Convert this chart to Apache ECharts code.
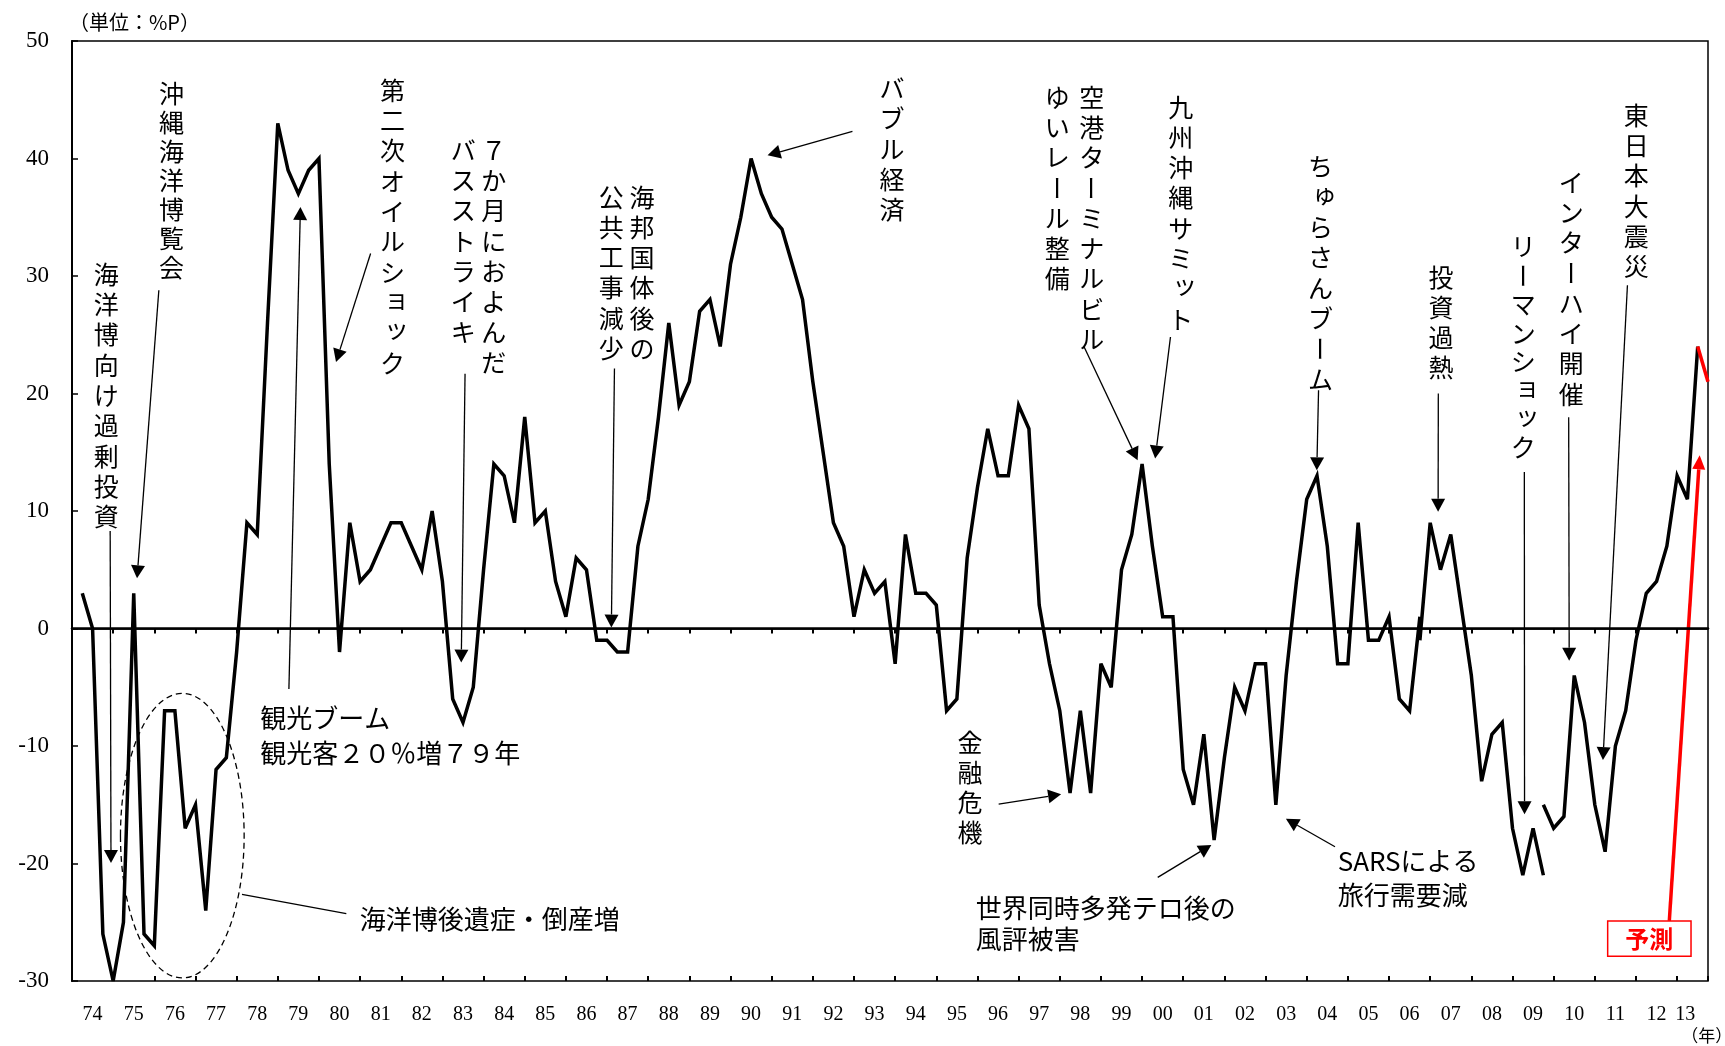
<!DOCTYPE html>
<html>
<head>
<meta charset="utf-8">
<title>沖縄 観光関連指標の推移</title>
<script src="https://cdn.jsdelivr.net/npm/echarts@6/dist/echarts.min.js"></script>
<style>
  html, body { margin: 0; padding: 0; background: #fff; }
  #chart { width: 1725px; height: 1046px; }
</style>
</head>
<body>
<div id="chart"></div>
<script>
// 横軸の年ラベル（四半期データ、1年=4区分）
const years = ['74', '75', '76', '77', '78', '79', '80', '81', '82', '83', '84', '85', '86', '87',
  '88', '89', '90', '91', '92', '93', '94', '95', '96', '97', '98', '99', '00', '01', '02', '03',
  '04', '05', '06', '07', '08', '09', '10', '11', '12', '13']

// 縦軸（%P）
const yMin = -30
const yMax = 50
const yStep = 10

// 系列1：74年〜06年（2番目の区分から）
const start1974 = 1
const series1974 = [3, 0, -26, -30, -25, 3, -26, -27, -7, -7,
  -17, -15, -24, -12, -11, -2, 9, 8, 26, 43,
  39, 37, 39, 40, 14, -2, 9, 4, 5, 7,
  9, 9, 7, 5, 10, 4, -6, -8, -5, 5,
  14, 13, 9, 18, 9, 10, 4, 1, 6, 5,
  -1, -1, -2, -2, 7, 11, 18, 26, 19, 21,
  27, 28, 24, 31, 35, 40, 37, 35, 34, 31,
  28, 21, 15, 9, 7, 1, 5, 3, 4, -3,
  8, 3, 3, 2, -7, -6, 6, 12, 17, 13,
  13, 19, 17, 2, -3, -7, -14, -7, -14, -3,
  -5, 5, 8, 14, 7, 1, 1, -12, -15, -9,
  -18, -11, -5, -7, -3, -3, -15, -4, 4, 11,
  13, 7, -3, -3, 9, -1, -1, 1, -6, -7, 1]

// 系列2：06年〜09年
const start2006 = 131
const series2006 = [-1, 9, 5, 8, 2, -4, -13, -9, -8, -17, -21, -17, -21]

// 系列3：09年〜13年
const start2009 = 143
const series2009 = [-15, -17, -16, -4, -8, -15, -19, -10, -7, -1, 3, 4, 7, 13, 11, 24]

// 予測
const startForecast = 158
const forecast = [24, 21]

const quarters = years.flatMap(y => ['Q1', 'Q2', 'Q3', 'Q4'].map(q => y + q))

function placed(start, values) {
  const out = quarters.map(() => null)
  values.forEach((v, i) => { out[start + i] = v })
  return out
}

const JP = 'Noto Sans CJK JP'
const SERIF = 'Liberation Serif'

// 注記（位置は [区分, %P] の座標）
const columnNotes = [
  { text: '海洋博向け過剰投資', at: [3.34, 30.14] },
  { text: '沖縄海洋博覧会', at: [9.66, 45.52], pitch: 29 },
  { text: '第二次オイルショック', at: [31.14, 45.8] },
  { text: '７か月におよんだ', at: [41.0, 40.7] },
  { text: 'バスストライキ', at: [38.02, 40.7] },
  { text: '海邦国体後の', at: [55.39, 36.72] },
  { text: '公共工事減少', at: [52.42, 36.72] },
  { text: 'バブル経済', at: [79.69, 45.95] },
  { text: '空港ターミナルビル', at: [99.11, 45.23] },
  { text: 'ゆいレール整備', at: [95.75, 45.23] },
  { text: '金融危機', at: [87.28, -9.66] },
  { text: '九州沖縄サミット', at: [107.76, 44.38] },
  { text: 'ちゅらさんブーム', at: [121.34, 39.28] },
  { text: '投資過熱', at: [133.05, 29.91] },
  { text: 'リーマンショック', at: [141.05, 32.47], pitch: 28.7 },
  { text: 'インターハイ開催', at: [145.7, 38.0] },
  { text: '東日本大震災', at: [152.03, 43.68] }
]

const lineNotes = [
  { text: '観光ブーム', at: [18.29, -7.67] },
  { text: '観光客２０％増７９年', at: [18.29, -10.59] },
  { text: '海洋博後遺症・倒産増', at: [27.97, -24.71] },
  { text: '世界同時多発テロ後の', at: [87.84, -23.8] },
  { text: '風評被害', at: [87.84, -26.41] },
  { text: 'SARSによる', at: [123.01, -19.8] },
  { text: '旅行需要減', at: [123.01, -22.72] }
]

const arrows = [
  { from: [3.71, 8.3], to: [3.79, -19.96] },
  { from: [8.44, 28.79], to: [6.32, 4.27] },
  { from: [29.02, 31.91], to: [25.66, 22.68] },
  { from: [38.2, 21.69], to: [37.83, -2.9] },
  { from: [21.08, -5.15], to: [22.2, 35.87] },
  { from: [52.72, 22.12], to: [52.42, 0.08] },
  { from: [75.85, 42.31], to: [67.6, 40.27] },
  { from: [98.37, 23.96], to: [103.57, 14.31] },
  { from: [90.06, -14.94], to: [96.13, -14.11] },
  { from: [105.52, -21.18], to: [110.73, -18.42] },
  { from: [122.75, -18.57], to: [117.98, -16.2] },
  { from: [106.76, 24.81], to: [105.27, 14.46] },
  { from: [121.15, 20.27], to: [120.98, 13.46] },
  { from: [132.79, 19.99], to: [132.77, 9.93] },
  { from: [141.15, 13.32], to: [141.17, -15.81] },
  { from: [145.46, 17.97], to: [145.51, -2.75] },
  { from: [151.17, 29.21], to: [148.79, -11.2] }
]

const chart = echarts.init(document.getElementById('chart'))

const blackLine = { color: '#000', width: 3.5, join: 'miter', miterLimit: 4 }

const option = {
  animation: false,
  grid: { left: 72, top: 41, right: 17, bottom: 65, show: true, borderColor: '#000', borderWidth: 1.5 },
  xAxis: [
    {
      type: 'category',
      data: quarters,
      boundaryGap: false,
      axisLine: { lineStyle: { color: '#000', width: 2.5 } },
      axisTick: { interval: i => i % 4 === 0, length: 5, lineStyle: { color: '#000', width: 2 } },
      axisLabel: {
        interval: i => i % 4 === 2,
        formatter: v => (v.slice(0, 2) === '13' ? '{last|13}' : v.slice(0, 2)),
        color: '#000',
        fontFamily: SERIF,
        fontSize: 20,
        margin: 24,
        rich: { last: { padding: [0, 25, 0, 0], color: '#000', fontFamily: SERIF, fontSize: 20 } }
      },
      splitLine: { show: false }
    },
    {
      type: 'value',
      min: 0,
      max: quarters.length - 1,
      interval: 4,
      position: 'bottom',
      axisLine: { show: false },
      axisLabel: { show: false },
      splitLine: { show: false },
      axisTick: { show: true, inside: true, length: 5, lineStyle: { color: '#000', width: 2 } }
    }
  ],
  yAxis: {
    type: 'value',
    min: yMin,
    max: yMax,
    interval: yStep,
    axisLine: { show: true, lineStyle: { color: '#000', width: 2 } },
    axisTick: { show: true, inside: true, length: 6, lineStyle: { color: '#000', width: 1.5 } },
    axisLabel: { color: '#000', fontFamily: SERIF, fontSize: 23, margin: 23 },
    splitLine: { show: false }
  },
  series: [
    {
      name: '74-06',
      type: 'line',
      data: placed(start1974, series1974),
      symbol: 'none',
      lineStyle: blackLine,
      markLine: {
        silent: true,
        symbol: 'none',
        label: { show: false },
        lineStyle: { color: '#000', width: 1.5, type: 'solid' },
        data: [{ yAxis: 0 }]
      }
    },
    { name: '06-09', type: 'line', data: placed(start2006, series2006), symbol: 'none', lineStyle: blackLine },
    { name: '09-13', type: 'line', data: placed(start2009, series2009), symbol: 'none', lineStyle: blackLine },
    {
      name: '予測',
      type: 'line',
      data: placed(startForecast, forecast),
      symbol: 'none',
      lineStyle: { color: '#ff0000', width: 3.5 }
    }
  ]
}

chart.setOption(option)

const px = (x, y) => [chart.convertToPixel({ xAxisIndex: 1 }, x), chart.convertToPixel({ yAxisIndex: 0 }, y)]

function textEl(text, x, y, opts) {
  return {
    type: 'text',
    x: x,
    y: y,
    rotation: opts.rotation || 0,
    silent: true,
    style: {
      text: text,
      x: 0,
      y: 0,
      align: opts.align || 'center',
      verticalAlign: 'middle',
      fontFamily: JP,
      fontSize: opts.size || 25,
      fontWeight: opts.weight || 'normal',
      fill: opts.color || '#000'
    }
  }
}

const SMALL = 'ッョュゅャっょゃァィゥェォ'

function column(note) {
  const [cx, cy] = px(note.at[0], note.at[1])
  const pitch = note.pitch || 30.3
  return Array.from(note.text).map((ch, k) => {
    const small = SMALL.includes(ch)
    return textEl(ch, cx + (small ? 4 : 0), cy + k * pitch - (small ? 4 : 0), {
      rotation: ch === 'ー' ? Math.PI / 2 : 0
    })
  })
}

function arrow(a, color, width, head) {
  const [x1, y1] = px(a.from[0], a.from[1])
  const [x2, y2] = px(a.to[0], a.to[1])
  const len = Math.hypot(x2 - x1, y2 - y1)
  const ux = (x2 - x1) / len
  const uy = (y2 - y1) / len
  const bx = x2 - ux * head.len
  const by = y2 - uy * head.len
  return [
    { type: 'line', silent: true, shape: { x1: x1, y1: y1, x2: bx, y2: by }, style: { stroke: color, lineWidth: width } },
    {
      type: 'polygon',
      silent: true,
      shape: { points: [[x2, y2], [bx - uy * head.half, by + ux * head.half], [bx + uy * head.half, by - ux * head.half]] },
      style: { fill: color }
    }
  ]
}

const elements = []
columnNotes.forEach(n => elements.push(...column(n)))
lineNotes.forEach(n => {
  const [x, y] = px(n.at[0], n.at[1])
  elements.push(textEl(n.text, x, y, { align: 'left', size: 26 }))
})
arrows.forEach(a => elements.push(...arrow(a, '#000', 1.3, { len: 13, half: 7 })))

// 海洋博後の落ち込みを囲む破線の楕円
const [ecx, ecy] = px(10.72, -17.63)
const [erx] = px(16.73, -17.63)
const [, ery] = px(10.72, -5.52)
elements.push({
  type: 'ellipse',
  silent: true,
  shape: { cx: ecx, cy: ecy, rx: erx - ecx, ry: ecy - ery },
  style: { fill: 'none', stroke: '#000', lineWidth: 1.3, lineDash: [6, 4] }
})
const [l1x, l1y] = px(16.52, -22.62)
const [l2x, l2y] = px(26.66, -24.26)
elements.push({ type: 'line', silent: true, shape: { x1: l1x, y1: l1y, x2: l2x, y2: l2y }, style: { stroke: '#000', lineWidth: 1.3 } })

// 予測ボックスと矢印
const [bx1, by1] = px(149.25, -24.89)
const [bx2, by2] = px(157.35, -27.9)
elements.push({
  type: 'rect',
  silent: true,
  shape: { x: bx1, y: by1, width: bx2 - bx1, height: by2 - by1 },
  style: { fill: '#fff', stroke: '#ff0000', lineWidth: 1.5 }
})
const [tx, ty] = px(153.3, -26.4)
elements.push(textEl('予測', tx, ty, { size: 24, weight: 'bold', color: '#ff0000' }))
elements.push(...arrow({ from: [155.24, -24.89], to: [158.19, 14.74] }, '#ff0000', 3.5, { len: 14, half: 6.5 }))

// 単位・年
const [ux0, uy0] = px(-0.3, 51.6)
elements.push(textEl('（単位：%P）', ux0, uy0, { align: 'left', size: 20 }))
const [nx, ny] = px(156.41, -34.6)
elements.push(textEl('（年）', nx, ny, { align: 'left', size: 17 }))

chart.setOption({ graphic: { elements: elements } })
</script>
</body>
</html>
